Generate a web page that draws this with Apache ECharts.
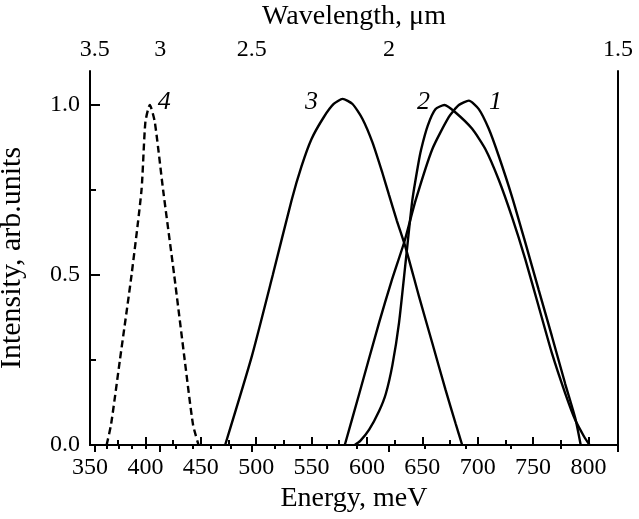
<!DOCTYPE html>
<html>
<head>
<meta charset="utf-8">
<script src="https://cdn.jsdelivr.net/npm/echarts@6/dist/echarts.min.js"></script>
<style>
html, body { margin: 0; padding: 0; background: #fff; }
#main { width: 639px; height: 519px; }
</style>
</head>
<body>
<div id="main"></div>
<script>
// 曲线数据 (energy meV / intensity arb.units)
var curve1Energy = [580, 593, 611, 622, 634, 644, 659, 674, 683, 692, 701, 710, 719, 731, 743, 755, 767, 779, 788, 793]
var curve1Value = [0, 0.15, 0.36, 0.48, 0.60, 0.72, 0.87, 0.965, 1.0, 1.013, 0.988, 0.93, 0.85, 0.73, 0.595, 0.457, 0.32, 0.18, 0.08, 0]

var curve2Energy = [589, 594, 602, 611, 617, 623, 629, 635, 641, 646, 649, 655, 662, 670, 680, 695, 707, 719, 731, 743, 755, 767, 779, 788, 796, 801]
var curve2Value = [0, 0.012, 0.045, 0.10, 0.15, 0.235, 0.36, 0.54, 0.72, 0.82, 0.87, 0.94, 0.988, 1.0, 0.978, 0.93, 0.87, 0.78, 0.67, 0.546, 0.408, 0.27, 0.152, 0.074, 0.025, 0]

var curve3Energy = [472, 496, 515, 532, 541, 550, 561, 570, 578, 587, 596, 605, 614, 620, 627, 635, 647, 659, 671, 680, 686]
var curve3Value = [0, 0.26, 0.5, 0.72, 0.82, 0.9, 0.964, 1.003, 1.018, 1.003, 0.959, 0.89, 0.80, 0.735, 0.66, 0.58, 0.437, 0.30, 0.162, 0.064, 0]

var curve4Energy = [365, 369, 377, 387.5, 396.5, 400, 404, 408.5, 416, 426, 435.5, 443, 448]
var curve4Value = [0, 0.06, 0.25, 0.5, 0.75, 0.95, 1.0, 0.95, 0.75, 0.5, 0.25, 0.06, 0]

// 曲线编号位置
var curveNames = ['1', '2', '3', '4']
var curveNameEnergy = [716, 651, 550, 417]
var curveNameValue = [1.008, 1.008, 1.008, 1.008]

// 刻度
var energyMajor = [350, 400, 450, 500, 550, 600, 650, 700, 750, 800]
var energyMinor = [375, 425, 475, 525, 575, 625, 675, 725, 775]
var wavelengthMajor = [3.5, 3, 2.5, 2, 1.5]
var wavelengthMinor = [3.4, 3.3, 3.2, 3.1, 2.9, 2.8, 2.7, 2.6, 2.4, 2.3, 2.2, 2.1, 1.9, 1.8, 1.7, 1.6]
var intensityMajor = [0, 0.5, 1.0]
var intensityMinor = [0.25, 0.75]

var HC = 1240 // meV * um
var xMin = 350
var xMax = HC / 1.5
var yMin = 0
var yMax = 1.1

var font = 'Liberation Serif'
var toE = function (l) { return HC / l }
var pairs = function (xs, ys) { return xs.map(function (x, i) { return [x, ys[i]] }) }

var lineSeries = function (xs, ys, dashed) {
    return {
        type: 'line',
        data: pairs(xs, ys),
        xAxisIndex: 0,
        yAxisIndex: 0,
        showSymbol: false,
        smooth: 0.2,
        lineStyle: { color: '#000', width: 2.4, type: dashed ? [7, 4] : 'solid' }
    }
}

var myChart = echarts.init(document.getElementById('main'))
myChart.setOption({
    animation: false,
    backgroundColor: '#fff',
    grid: { left: 90, right: 21, top: 71, bottom: 74, containLabel: false, outerBoundsMode: 'none' },
    xAxis: [
        {
            type: 'value', position: 'bottom', min: xMin, max: xMax,
            name: 'Energy, meV', nameLocation: 'middle', nameGap: 37,
            nameTextStyle: { fontFamily: font, fontSize: 28, color: '#000' },
            axisLine: { show: true, lineStyle: { color: '#000', width: 2 } },
            axisTick: { show: true, inside: true, length: 8, customValues: energyMajor, lineStyle: { color: '#000', width: 2 } },
            axisLabel: { customValues: energyMajor, margin: 11, fontFamily: font, fontSize: 24, color: '#000' },
            splitLine: { show: false }
        },
        {
            type: 'value', position: 'top', min: xMin, max: xMax,
            name: 'Wavelength, μm', nameLocation: 'middle', nameGap: 40,
            nameTextStyle: { fontFamily: font, fontSize: 28, color: '#000' },
            axisLine: { show: true, lineStyle: { color: '#000', width: 2 } },
            axisTick: { show: true, inside: true, length: 7, customValues: wavelengthMajor.map(toE), lineStyle: { color: '#000', width: 2 } },
            axisLabel: {
                customValues: wavelengthMajor.map(toE), margin: 9,
                fontFamily: font, fontSize: 24, color: '#000',
                formatter: function (v) { return String(Math.round(HC / v * 10) / 10) }
            },
            splitLine: { show: false }
        },
        {
            // 上方次刻度
            type: 'value', position: 'top', min: xMin, max: xMax,
            axisLine: { show: false },
            axisTick: { show: true, inside: true, length: 4, customValues: wavelengthMinor.map(toE), lineStyle: { color: '#000', width: 2 } },
            axisLabel: { show: false },
            splitLine: { show: false }
        },
        {
            // 下方次刻度
            type: 'value', position: 'bottom', min: xMin, max: xMax,
            axisLine: { show: false },
            axisTick: { show: true, inside: true, length: 5, customValues: energyMinor, lineStyle: { color: '#000', width: 2 } },
            axisLabel: { show: false },
            splitLine: { show: false }
        }
    ],
    yAxis: [
        {
            type: 'value', position: 'left', min: yMin, max: yMax,
            name: 'Intensity, arb.units', nameLocation: 'middle', nameGap: 63,
            nameTextStyle: { fontFamily: font, fontSize: 30, color: '#000' },
            axisLine: { show: true, lineStyle: { color: '#000', width: 2 } },
            axisTick: { show: true, inside: true, length: 10, customValues: intensityMajor, lineStyle: { color: '#000', width: 2 } },
            axisLabel: {
                customValues: intensityMajor, margin: 10,
                fontFamily: font, fontSize: 24, color: '#000',
                formatter: function (v) { return v.toFixed(1) }
            },
            splitLine: { show: false }
        },
        {
            type: 'value', position: 'right', min: yMin, max: yMax,
            axisLine: { show: true, lineStyle: { color: '#000', width: 2 } },
            axisTick: { show: false },
            axisLabel: { show: false },
            splitLine: { show: false }
        },
        {
            // 左侧次刻度
            type: 'value', position: 'left', min: yMin, max: yMax,
            axisLine: { show: false },
            axisTick: { show: true, inside: true, length: 6, customValues: intensityMinor, lineStyle: { color: '#000', width: 2 } },
            axisLabel: { show: false },
            splitLine: { show: false }
        }
    ],
    series: [
        lineSeries(curve1Energy, curve1Value, false),
        lineSeries(curve2Energy, curve2Value, false),
        lineSeries(curve3Energy, curve3Value, false),
        lineSeries(curve4Energy, curve4Value, true),
        {
            type: 'scatter',
            xAxisIndex: 0,
            yAxisIndex: 0,
            symbolSize: 0,
            itemStyle: { color: '#000', opacity: 1 },
            data: curveNames.map(function (n, i) { return { name: n, value: [curveNameEnergy[i], curveNameValue[i]] } }),
            label: {
                show: true, position: 'inside',
                formatter: function (p) { return p.name },
                fontFamily: font, fontStyle: 'italic', fontSize: 26, color: '#000'
            }
        }
    ]
})
</script>
</body>
</html>
